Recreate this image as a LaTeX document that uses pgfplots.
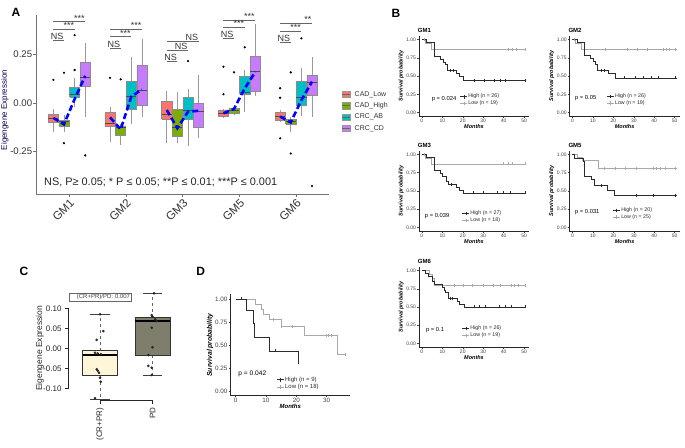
\documentclass[border=0pt]{standalone}
\usepackage{fontspec}
\setmainfont{Liberation Sans}
\usepackage{pgfplots}
\pgfplotsset{compat=1.18}

\definecolor{cadlow}{HTML}{F8766D}
\definecolor{cadhigh}{HTML}{7CAE00}
\definecolor{crcab}{HTML}{00BFC4}
\definecolor{crccd}{HTML}{C77CFF}
\definecolor{survhigh}{HTML}{2B2B2B}
\definecolor{survlow}{HTML}{A8A8A8}
\definecolor{cfillA}{HTML}{FFF5D9}
\definecolor{cfillB}{HTML}{7F7D6B}

\pgfplotsset{
  legend image code/.code={\draw[mark repeat=2,mark phase=2,#1] plot coordinates {(0pt,0pt) (3.5pt,0pt) (7pt,0pt)};},
}
\pgfplotsset{
  survax/.style={scale only axis, width=110.4pt, height=80.3pt,
    xmin=-1.5, xmax=52.5, ymin=-0.05, ymax=1.05,
    axis x line*=bottom, axis y line*=left, axis line style={black!85, line width=0.45pt},
    xtick={0,10,20,30,40,50}, xticklabels={0,10,20,30,40,50},
    ytick={0,0.25,0.5,0.75,1}, yticklabels={0.00,0.25,0.50,0.75,1.00},
    tick align=outside, major tick length=1.6pt, tick style={black!75, line width=0.4pt},
    tick label style={font=\fontsize{5}{5}\selectfont, text=black!75, inner sep=1pt},
    xlabel={Months}, ylabel={Survival probability},
    xlabel style={at={(axis description cs:0.5,-0.13)}, anchor=center, font=\bfseries\itshape\fontsize{5.5}{6}\selectfont},
    ylabel style={at={(axis description cs:-0.16,0.5)}, anchor=center, font=\bfseries\itshape\fontsize{5.5}{6}\selectfont},
    every axis title shift=0pt,
    title style={at={(axis description cs:-0.01,1.07)}, anchor=west, font=\bfseries\fontsize{6}{6}\selectfont, inner sep=0pt},
    legend style={draw=none, fill=none, anchor=west, font=\fontsize{5.3}{5.5}\selectfont, inner sep=0pt, row sep=0pt, nodes={inner sep=0.7pt, text=black!85}},
    legend cell align=left, clip=false},
}

% box: left, centre, right, colour, lower whisker, lower quartile, median, upper quartile, upper whisker
\newcommand{\Abox}[9]{%
  \addplot[black!40, line width=0.6pt] coordinates {(#2,#5) (#2,#6)};
  \addplot[black!40, line width=0.6pt] coordinates {(#2,#8) (#2,#9)};
  \addplot[draw=black!45, fill=#4, line width=0.6pt] coordinates {(#1,#6) (#3,#6) (#3,#8) (#1,#8) (#1,#6)};
  \addplot[black!70, line width=0.9pt] coordinates {(#1,#7) (#3,#7)};}
\newcommand{\Abr}[4]{%
  \addplot[black!60, line width=0.6pt] coordinates {(#1,#3) (#2,#3)};
  \node[anchor=south east, inner sep=0.4pt, font=\fontsize{9}{9}\selectfont, text=black!80] at (axis cs:#2,#3) {#4};}
\newcommand{\survplot}[4]{%
  \addplot[const plot, survlow, line width=0.8pt] coordinates {#3};
  \addplot[const plot, survhigh, line width=0.8pt] coordinates {#1};
  \addplot[only marks, mark=|, mark size=1.5pt, survlow, mark options={line width=0.45pt}] coordinates {#4};
  \addplot[only marks, mark=|, mark size=1.5pt, survhigh, mark options={line width=0.45pt}] coordinates {#2};}
\newcommand{\survlegend}[2]{%
  \addlegendimage{survhigh, line width=0.8pt, mark=|, mark size=1.8pt, mark options={line width=0.5pt}}\addlegendentry{#1}
  \addlegendimage{survlow, line width=0.8pt, mark=|, mark size=1.8pt, mark options={line width=0.5pt}}\addlegendentry{#2}}

\begin{document}
\begin{tikzpicture}
\path[use as bounding box] (0pt,0pt) rectangle (685pt,447pt);

% ---------------- Panel A ----------------
\begin{axis}[at={(35.85pt,252.8pt)}, anchor=south west, scale only axis,
  width=293.1pt, height=179.5pt,
  xmin=0.41, xmax=5.58, ymin=-0.47, ymax=0.455,
  axis x line*=bottom, axis y line*=left, axis line style={black!55, line width=0.6pt},
  xtick={1,2,3,4,5}, xticklabels={GM1,GM2,GM3,GM5,GM6},
  ytick={-0.25,0,0.25}, yticklabels={-0.25,0.00,0.25},
  tick align=outside, major tick length=2.5pt, tick style={black!55, line width=0.6pt},
  x tick label style={rotate=45, anchor=north east, font=\fontsize{11.5}{11.5}\selectfont, text=black!80, inner sep=1pt},
  y tick label style={font=\fontsize{9.6}{10}\selectfont, text=black!80, inner sep=1pt},
  ylabel={Eigengene Expression},
  ylabel style={at={(axis description cs:-0.106,0.469)}, anchor=center, font=\fontsize{8}{9}\selectfont, text=black!70!blue},
  clip=false,
]
% GM1
\Abox{0.629}{0.719}{0.809}{cadlow}{-0.15}{-0.10}{-0.079}{-0.058}{-0.031}
\Abox{0.816}{0.906}{0.996}{cadhigh}{-0.15}{-0.119}{-0.096}{-0.088}{-0.062}
\Abox{1.004}{1.094}{1.184}{crcab}{-0.02}{0.031}{0.045}{0.082}{0.128}
\Abox{1.191}{1.281}{1.371}{crccd}{-0.07}{0.084}{0.132}{0.208}{0.31}
% GM2
\Abox{1.629}{1.719}{1.809}{cadlow}{-0.20}{-0.122}{-0.105}{-0.05}{-0.019}
\Abox{1.816}{1.906}{1.996}{cadhigh}{-0.216}{-0.168}{-0.125}{-0.119}{-0.108}
\Abox{2.004}{2.094}{2.184}{crcab}{-0.108}{-0.033}{0.036}{0.11}{0.235}
\Abox{2.191}{2.281}{2.371}{crccd}{-0.074}{-0.012}{0.063}{0.192}{0.328}
% GM3
\Abox{2.629}{2.719}{2.809}{cadlow}{-0.205}{-0.082}{-0.058}{0.01}{0.063}
\Abox{2.816}{2.906}{2.996}{cadhigh}{-0.208}{-0.174}{-0.127}{-0.031}{0.058}
\Abox{3.004}{3.094}{3.184}{crcab}{-0.22}{-0.082}{-0.036}{0.029}{0.07}
\Abox{3.191}{3.281}{3.371}{crccd}{-0.182}{-0.127}{-0.045}{-0.004}{0.144}
% GM5
\Abox{3.629}{3.719}{3.809}{cadlow}{-0.075}{-0.07}{-0.053}{-0.036}{-0.03}
\Abox{3.816}{3.906}{3.996}{cadhigh}{-0.062}{-0.053}{-0.041}{-0.027}{-0.015}
\Abox{4.004}{4.094}{4.184}{crcab}{-0.045}{0.046}{0.055}{0.139}{0.17}
\Abox{4.191}{4.281}{4.371}{crccd}{0.036}{0.062}{0.161}{0.239}{0.407}
% GM6
\Abox{4.629}{4.719}{4.809}{cadlow}{-0.096}{-0.088}{-0.07}{-0.048}{-0.036}
\Abox{4.816}{4.906}{4.996}{cadhigh}{-0.148}{-0.108}{-0.096}{-0.084}{-0.07}
\Abox{5.004}{5.094}{5.184}{crcab}{-0.067}{-0.012}{0.029}{0.11}{0.179}
\Abox{5.191}{5.281}{5.371}{crccd}{-0.07}{0.041}{0.105}{0.141}{0.235}
% mean lines
\addplot[blue, line width=2.6pt, dash pattern=on 6pt off 3pt] coordinates {(0.719,-0.077) (0.906,-0.11) (1.094,0.02) (1.281,0.14)};
\addplot[blue, line width=2.6pt, dash pattern=on 6pt off 3pt] coordinates {(1.719,-0.074) (1.906,-0.136) (2.094,0.033) (2.281,0.07)};
\addplot[blue, line width=2.6pt, dash pattern=on 6pt off 3pt] coordinates {(2.719,-0.036) (2.906,-0.13) (3.094,-0.045) (3.281,-0.04)};
\addplot[blue, line width=2.6pt, dash pattern=on 6pt off 3pt] coordinates {(3.719,-0.053) (3.906,-0.03) (4.094,0.075) (4.281,0.16)};
\addplot[blue, line width=2.6pt, dash pattern=on 6pt off 3pt] coordinates {(4.719,-0.07) (4.906,-0.1) (5.094,0.015) (5.281,0.11)};
% outliers
\addplot[only marks, mark=*, mark size=0.9pt, black] coordinates {
 (0.719,0.119) (0.906,0.156) (0.906,-0.207) (1.094,0.17) (1.094,0.35) (1.281,-0.27)
 (1.719,0.13) (1.906,0.122)
 (3.094,0.216)
 (3.719,0.187) (3.719,0.045) (3.906,0.158) (4.094,0.287)
 (4.719,0.076) (4.719,0.027) (4.719,-0.182) (4.906,0.158) (4.906,-0.26) (5.094,0.333) (5.281,-0.428)};
% significance brackets
\Abr{0.719}{1.281}{0.419}{***}
\Abr{0.719}{1.094}{0.380}{***}
\Abr{0.719}{0.906}{0.325}{NS}
\Abr{1.719}{2.281}{0.380}{***}
\Abr{1.719}{2.094}{0.342}{***}
\Abr{1.719}{1.906}{0.282}{NS}
\Abr{2.719}{3.281}{0.316}{NS}
\Abr{2.719}{3.094}{0.270}{NS}
\Abr{2.719}{2.906}{0.213}{NS}
\Abr{3.719}{4.281}{0.428}{***}
\Abr{3.719}{4.094}{0.390}{***}
\Abr{3.719}{3.906}{0.334}{NS}
\Abr{4.719}{5.281}{0.411}{**}
\Abr{4.719}{5.094}{0.368}{***}
\Abr{4.719}{4.906}{0.313}{NS}
\node[anchor=west, font=\fontsize{10.9}{11}\selectfont, inner sep=0pt, text=black!85] at (axis cs:0.554,-0.407) {NS, P≥ 0.05; * P ≤ 0.05; **P ≤ 0.01; ***P ≤ 0.001};
\end{axis}

% legend A
\foreach \yy/\cc/\tt in {352.5/cadlow/CAD\_Low, 341.2/cadhigh/CAD\_High, 329.9/crcab/CRC\_AB, 318.6/crccd/CRC\_CD}{
  \filldraw[fill=\cc, draw=black!40, line width=0.4pt] (341.7pt,\yy pt-3.2pt) rectangle (350.3pt,\yy pt+3.2pt);
  \draw[black!60, line width=0.6pt] (341.7pt,\yy pt) -- (350.3pt,\yy pt);
  \node[anchor=west, font=\fontsize{7}{7}\selectfont, text=black!80, inner sep=0pt] at (354.5pt,\yy pt) {\tt};
}

% panel letters
\node[font=\bfseries\fontsize{12}{12}\selectfont] at (16pt,434.5pt) {A};
\node[font=\bfseries\fontsize{12}{12}\selectfont] at (396pt,434pt) {B};
\node[font=\bfseries\fontsize{12}{12}\selectfont] at (24pt,176pt) {C};
\node[font=\bfseries\fontsize{12}{12}\selectfont] at (200.7pt,176pt) {D};

% ---------------- Panel B ----------------
\begin{axis}[survax, at={(418.8pt,330.75pt)}, anchor=south west, title={GM1},
  legend style={at={(axis description cs:0.370,0.200)}}]
\survlegend{High (n = 26)}{Low (n = 19)}
\survplot{(0,1) (2,0.962) (6,0.77) (9,0.731) (10.5,0.692) (11.5,0.654) (12.5,0.577) (17,0.535) (18.5,0.492) (20.5,0.44) (51,0.44)}
 {(14,0.577) (15.5,0.577) (25.5,0.44) (30.5,0.44) (35.5,0.44) (38.5,0.44) (41,0.44) (50.5,0.44)}
 {(0,1) (1.5,0.947) (4.5,0.87) (51,0.87)}
 {(1,1) (42,0.87) (44,0.87) (46,0.87) (50.5,0.87)}
\node[anchor=west, font=\fontsize{5.8}{6}\selectfont, inner sep=0pt] at (axis cs:4.8,0.186) {p = 0.024};
\end{axis}

\begin{axis}[survax, at={(569.4pt,330.75pt)}, anchor=south west, title={GM2},
  legend style={at={(axis description cs:0.335,0.205)}}]
\survlegend{High (n = 26)}{Low (n = 19)}
\survplot{(0,1) (2.5,0.962) (6,0.78) (8.7,0.74) (10,0.70) (11.2,0.66) (12.4,0.58) (17.5,0.535) (20.8,0.475) (51,0.475)}
 {(14,0.58) (15.5,0.58) (25.2,0.475) (30.5,0.475) (34.8,0.475) (38.4,0.475) (42,0.475) (50.5,0.475)}
 {(0,1) (1.5,0.947) (4.5,0.862) (51,0.862)}
 {(1,1) (16.2,0.862) (26.6,0.862) (31.8,0.862) (36.8,0.862) (44.2,0.862) (46,0.862) (47.5,0.862) (50.5,0.862)}
\node[anchor=west, font=\fontsize{5.8}{6}\selectfont, inner sep=0pt] at (axis cs:1.2,0.196) {p = 0.05};
\end{axis}

\begin{axis}[survax, at={(418.8pt,216.05pt)}, anchor=south west, title={GM3},
  legend style={at={(axis description cs:0.389,0.174)}}]
\survlegend{High (n = 27)}{Low (n = 18)}
\survplot{(0,1) (2,0.963) (6,0.778) (9,0.741) (10,0.70) (12,0.63) (13,0.59) (17,0.54) (18.5,0.51) (20.5,0.47) (51,0.47)}
 {(14.5,0.59) (25,0.47) (30,0.47) (37,0.47) (40,0.47) (43,0.47) (50.5,0.47)}
 {(0,1) (1.5,0.944) (4.5,0.868) (51,0.868)}
 {(1,1) (40,0.868) (42,0.868) (44,0.868) (50.5,0.868)}
\node[anchor=west, font=\fontsize{5.8}{6}\selectfont, inner sep=0pt] at (axis cs:1.4,0.159) {p = 0.039};
\end{axis}

\begin{axis}[survax, at={(569.4pt,216.05pt)}, anchor=south west, title={GM5},
  legend style={at={(axis description cs:0.391,0.215)}}]
\survlegend{High (n = 20)}{Low (n = 25)}
\survplot{(0,1) (1,0.95) (5.3,0.90) (6,0.70) (9.2,0.65) (10.8,0.575) (17.3,0.50) (20.5,0.44) (51,0.44)}
 {(14,0.575) (31,0.44) (39.5,0.44) (50.5,0.44)}
 {(0,1) (2.3,0.96) (4.8,0.92) (12.9,0.80) (51,0.80)}
 {(15.6,0.8) (21,0.8) (25.8,0.8) (31,0.8) (39.4,0.8) (41,0.8) (42.7,0.8) (45.5,0.8) (50.5,0.8)}
\node[anchor=west, font=\fontsize{5.8}{6}\selectfont, inner sep=0pt] at (axis cs:1.2,0.214) {p = 0.031};
\end{axis}

\begin{axis}[survax, at={(418.8pt,99.85pt)}, anchor=south west, title={GM6},
  legend style={at={(axis description cs:0.389,0.189)}}]
\survlegend{High (n = 26)}{Low (n = 19)}
\survplot{(0,1) (1.5,0.962) (3,0.923) (5,0.846) (6,0.808) (10,0.77) (11,0.73) (11.6,0.70) (12.9,0.62) (17.4,0.58) (18.5,0.54) (20.7,0.50) (51,0.50)}
 {(14,0.62) (15,0.62) (25.7,0.5) (28.1,0.5) (31,0.5) (37.7,0.5) (41,0.5) (43.5,0.5) (50.5,0.5)}
 {(0,1) (3.5,0.947) (5,0.895) (6,0.80) (51,0.80)}
 {(15.7,0.8) (20.4,0.8) (24.8,0.8) (29.8,0.8) (34.8,0.8) (38.4,0.8) (43.8,0.8) (45.4,0.8) (47,0.8) (50.5,0.8)}
\node[anchor=west, font=\fontsize{5.8}{6}\selectfont, inner sep=0pt] at (axis cs:2.0,0.185) {p = 0.1};
\end{axis}

% ---------------- Panel C ----------------
\begin{axis}[at={(68.5pt,46.9pt)}, anchor=south west, scale only axis,
  width=115.5pt, height=109.8pt,
  xmin=0.4, xmax=2.6, ymin=-0.1295, ymax=0.145,
  axis x line*=bottom, axis y line*=left, axis line style={draw=none},
  xtick={1,2}, xticklabels={(CR+PR),PD},
  ytick={-0.1,-0.05,0,0.05,0.1}, yticklabels={-0.10,-0.05,0.00,0.05,0.10},
  tick align=outside, major tick length=3.5pt, tick style={black!85, line width=0.5pt},
  tick label style={font=\fontsize{8}{8}\selectfont, text=black!85},
  xticklabel style={rotate=90, anchor=east, inner sep=1pt}, xticklabel shift=3pt,
  ylabel={Eigengene Expression},
  ylabel style={at={(axis description cs:-0.247,0.472)}, anchor=center, font=\fontsize{8.5}{9}\selectfont, text=black!85},
  clip=false]
\addplot[black!85, line width=0.5pt] coordinates {(0.4,-0.1) (0.4,0.1)};
\addplot[black!85, line width=0.5pt] coordinates {(1,-0.1295) (2,-0.1295)};
% whiskers
\addplot[black!60, dashed, line width=0.5pt] coordinates {(1,-0.006) (1,0.085)};
\addplot[black!60, dashed, line width=0.5pt] coordinates {(1,-0.0685) (1,-0.1275)};
\addplot[black!60, dashed, line width=0.5pt] coordinates {(2,0.0765) (2,0.1375)};
\addplot[black!60, dashed, line width=0.5pt] coordinates {(2,-0.017) (2,-0.067)};
\addplot[black!75, line width=0.5pt] coordinates {(0.81,0.085) (1.19,0.085)};
\addplot[black!75, line width=0.5pt] coordinates {(0.81,-0.1275) (1.19,-0.1275)};
\addplot[black!75, line width=0.5pt] coordinates {(1.81,0.1375) (2.19,0.1375)};
\addplot[black!75, line width=0.5pt] coordinates {(1.81,-0.067) (2.19,-0.067)};
% boxes
\addplot[fill=cfillA, draw=black!80, line width=0.5pt] coordinates {(0.67,-0.0685) (1.33,-0.0685) (1.33,-0.006) (0.67,-0.006) (0.67,-0.0685)};
\addplot[fill=cfillB, draw=black!80, line width=0.5pt] coordinates {(1.67,-0.017) (2.33,-0.017) (2.33,0.0765) (1.67,0.0765) (1.67,-0.017)};
\addplot[black, line width=1.3pt] coordinates {(0.67,-0.017) (1.33,-0.017)};
\addplot[black, line width=1.3pt] coordinates {(1.67,0.068) (2.33,0.068)};
% points
\addplot[only marks, mark=*, mark size=1.1pt, black!85] coordinates {
 (1.0,0.085) (1.063,0.043) (0.937,0.021) (0.905,-0.011) (0.956,-0.013) (1.019,-0.015)
 (0.937,-0.0525) (0.956,-0.056) (0.98,-0.061) (1.0,-0.0735) (1.013,-0.0835) (0.905,-0.125)
 (2.03,0.1375) (1.985,0.083) (2.0,0.079) (2.05,0.0725) (2.08,0.068) (1.985,0.0515) (2.0,0.0025)
 (1.92,-0.017) (1.92,-0.044) (1.985,-0.0485) (1.985,-0.0667)};
\node[draw=black!60, line width=0.4pt, fill=white, font=\fontsize{6}{6}\selectfont, inner sep=1.5pt,
  text width=59pt, align=right, text=black!75] at (axis cs:1.01,0.128) {(CR+PR)/PD: 0.007};
\end{axis}

% ---------------- Panel D ----------------
\begin{axis}[survax, at={(230.2pt,51.4pt)}, anchor=south west,
  width=120.1pt, height=101.2pt, xmin=-1.8, xmax=37.8,
  xtick={0,10,20,30}, xticklabels={0,10,20,30},
  tick label style={font=\fontsize{6.3}{6.5}\selectfont, text=black!75, inner sep=1pt},
  xlabel style={at={(axis description cs:0.5,-0.11)}, anchor=center, font=\bfseries\itshape\fontsize{6}{6}\selectfont},
  ylabel style={at={(axis description cs:-0.168,0.5)}, anchor=center, font=\bfseries\itshape\fontsize{6.8}{7}\selectfont},
  legend style={at={(axis description cs:0.385,0.121)}, font=\fontsize{6}{6.3}\selectfont}]
\survlegend{High (n = 9)}{Low (n = 18)}
\survplot{(0,1) (3.4,0.875) (5.8,0.73) (6.3,0.58) (11,0.435) (20.7,0.29)}
 {(1.9,1) (13,0.435)}
 {(0,1) (6.5,0.944) (8.4,0.889) (9.1,0.833) (11,0.78) (15,0.70) (22.6,0.60) (33.6,0.40) (36,0.40)}
 {(12.4,0.78) (15,0.70) (18.5,0.70) (29.7,0.6) (30.5,0.6) (31.6,0.6) (36,0.4)}
\node[anchor=west, font=\fontsize{6.6}{7}\selectfont, inner sep=0pt] at (axis cs:0.86,0.19) {p = 0.042};
\end{axis}
\end{tikzpicture}
\end{document}
